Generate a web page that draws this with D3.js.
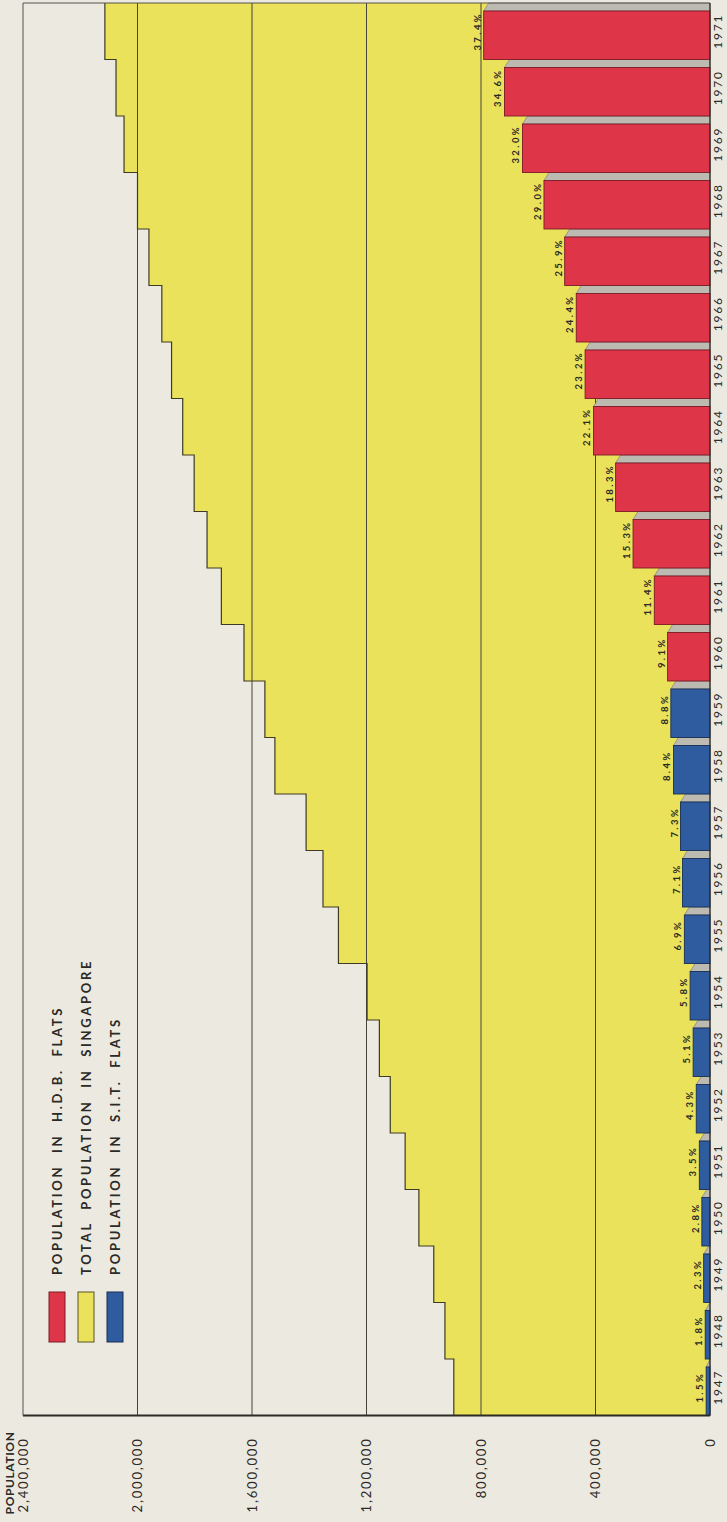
<!DOCTYPE html>
<html>
<head>
<meta charset="utf-8">
<script src="https://cdn.jsdelivr.net/npm/d3@7"></script>
<style>
  html, body { margin: 0; padding: 0; background: #ECE9E1; }
  svg { display: block; }
</style>
</head>
<body>
<svg id="chart" width="727" height="1522"></svg>
<script>
// Singapore: total population and population housed in public flats, 1947-1971
const years = [1947, 1948, 1949, 1950, 1951, 1952, 1953, 1954, 1955, 1956, 1957, 1958, 1959,
               1960, 1961, 1962, 1963, 1964, 1965, 1966, 1967, 1968, 1969, 1970, 1971];
const totalPopulation = [895000, 926000, 965000, 1017000, 1065000, 1117000, 1155000, 1198000,
                         1298000, 1352000, 1411000, 1520000, 1555000, 1628000, 1707000, 1757000,
                         1802000, 1842000, 1881000, 1915000, 1960000, 2000000, 2047000, 2075000, 2114000];
// share of the total living in public flats (per cent)
const flatSharePct = [1.5, 1.8, 2.3, 2.8, 3.5, 4.3, 5.1, 5.8, 6.9, 7.1, 7.3, 8.4, 8.8,
                      9.1, 11.4, 15.3, 18.3, 22.1, 23.2, 24.4, 25.9, 29.0, 32.0, 34.6, 37.4];
// housing authority responsible in each year
const flatAuthority = ["SIT", "SIT", "SIT", "SIT", "SIT", "SIT", "SIT", "SIT", "SIT", "SIT", "SIT", "SIT", "SIT",
                       "HDB", "HDB", "HDB", "HDB", "HDB", "HDB", "HDB", "HDB", "HDB", "HDB", "HDB", "HDB"];
const populationTicks = [0, 400000, 800000, 1200000, 1600000, 2000000, 2400000];
const legendKeys = ["HDB", "TOTAL", "SIT"];
const legendLabels = ["POPULATION  IN  H.D.B.  FLATS", "TOTAL  POPULATION  IN  SINGAPORE", "POPULATION  IN  S.I.T.  FLATS"];

const W = 727, H = 1522;
const colors = { HDB: "#DE3548", SIT: "#2E5C9F", TOTAL: "#EAE25A" };
const outline = { HDB: "#7A1C26", SIT: "#1A2F55", TOTAL: "#5A5520" };
const ink = "#2B2A26";
const font = "Lato, 'Noto Sans', sans-serif";

const svg = d3.select("#chart");
svg.append("rect").attr("width", W).attr("height", H).attr("fill", "#ECE9E1");

// The plot is built upright and then turned a quarter turn, so years run up the page
const g = svg.append("g").attr("transform", `translate(0,${H}) rotate(-90)`);

const x = d3.scaleBand().domain(years).range([106.5, 1519]);
const y = d3.scaleLinear().domain([0, 2400000]).range([710, 23]);
const bw = x.bandwidth();
const x0 = x.range()[0], x1 = x.range()[1];

const rows = years.map((yr, i) => ({
  year: yr,
  total: totalPopulation[i],
  pct: flatSharePct[i],
  auth: flatAuthority[i],
  flats: totalPopulation[i] * flatSharePct[i] / 100
}));

// total population as a stepped area
const stepData = rows.map(d => ({ x: x(d.year), v: d.total }));
stepData.push({ x: x1, v: rows[rows.length - 1].total });

g.append("path")
  .datum(stepData)
  .attr("fill", colors.TOTAL)
  .attr("d", d3.area().x(d => d.x).y0(y(0)).y1(d => y(d.v)).curve(d3.curveStepAfter));

// grid lines
g.append("g").selectAll("line")
  .data(populationTicks.filter(t => t > 0 && t < 2400000))
  .join("line")
  .attr("x1", x0).attr("x2", x1)
  .attr("y1", d => y(d)).attr("y2", d => y(d))
  .attr("stroke", "#46433A").attr("stroke-width", 1);

// outline of the steps
g.append("path")
  .datum(stepData)
  .attr("fill", "none")
  .attr("stroke", "#3E3B22").attr("stroke-width", 1.2)
  .attr("d", d3.line().x(d => d.x).y(d => y(d.v)).curve(d3.curveStepAfter));

// flat population bars with a grey side face
const depth = 8, bevel = 5;
const bars = g.append("g").selectAll("g").data(rows).join("g");

bars.append("polygon")
  .attr("points", d => {
    const a = x(d.year) + bw - depth, b = x(d.year) + bw;
    const top = y(d.flats), base = y(0);
    return [[a, base], [a, top], [b, Math.min(top + bevel, base)], [b, base]].map(p => p.join(",")).join(" ");
  })
  .attr("fill", "#BDBAB2")
  .attr("stroke", "#77746D").attr("stroke-width", 0.6);

bars.append("rect")
  .attr("x", d => x(d.year))
  .attr("width", bw - depth)
  .attr("y", d => y(d.flats))
  .attr("height", d => y(0) - y(d.flats))
  .attr("fill", d => colors[d.auth])
  .attr("stroke", d => outline[d.auth]).attr("stroke-width", 0.9);

// percentage labels
bars.append("text")
  .attr("x", d => x(d.year) + bw / 2)
  .attr("y", d => y(d.flats) - 3)
  .attr("text-anchor", "middle")
  .attr("font-family", font)
  .attr("font-weight", "bold")
  .attr("font-size", 9.5)
  .attr("letter-spacing", 2.4)
  .attr("fill", ink)
  .text(d => d.pct.toFixed(1) + "%");

// frame
g.append("line").attr("x1", x0).attr("x2", x0).attr("y1", y(0)).attr("y2", y(2400000))
  .attr("stroke", ink).attr("stroke-width", 2.2);
g.append("line").attr("x1", x1).attr("x2", x1).attr("y1", y(0)).attr("y2", y(2400000))
  .attr("stroke", "#55534C").attr("stroke-width", 1);
g.append("line").attr("x1", x0).attr("x2", x1).attr("y1", y(2400000)).attr("y2", y(2400000))
  .attr("stroke", "#55534C").attr("stroke-width", 1);
g.append("line").attr("x1", x0).attr("x2", x1).attr("y1", y(0)).attr("y2", y(0))
  .attr("stroke", ink).attr("stroke-width", 1.3);

// year axis
const xAxis = g.append("g")
  .attr("transform", `translate(0,${y(0)})`)
  .call(d3.axisBottom(x).tickSize(0).tickPadding(3));
xAxis.select(".domain").remove();
xAxis.selectAll("text")
  .attr("font-family", font).attr("font-size", 12)
  .attr("letter-spacing", 1.8).attr("fill", ink);

// population axis
const yAxis = g.append("g")
  .attr("transform", `translate(${x0},0)`)
  .call(d3.axisLeft(y).tickValues(populationTicks).tickFormat(d3.format(",")).tickSize(0).tickPadding(22));
yAxis.select(".domain").remove();
yAxis.selectAll("text")
  .attr("font-family", font).attr("font-size", 13)
  .attr("letter-spacing", 1.8).attr("fill", ink);

g.append("text")
  .attr("x", x0 - 16).attr("y", y(2400000) - 13).attr("dy", "0.32em")
  .attr("text-anchor", "end")
  .attr("font-family", font).attr("font-weight", "bold").attr("font-size", 12)
  .attr("letter-spacing", 0.6).attr("fill", ink)
  .text("POPULATION");

// legend
const legend = g.append("g").selectAll("g").data(legendKeys).join("g")
  .attr("transform", (d, i) => `translate(180,${57 + i * 29})`);
legend.append("rect")
  .attr("x", 0).attr("y", -8).attr("width", 50).attr("height", 16)
  .attr("fill", d => colors[d])
  .attr("stroke", d => outline[d]).attr("stroke-width", 1);
legend.append("text")
  .attr("x", 67).attr("y", 0).attr("dy", "0.36em")
  .style("white-space", "pre")
  .attr("font-family", font).attr("font-weight", "bold").attr("font-size", 13)
  .attr("letter-spacing", 2.7).attr("fill", ink)
  .text((d, i) => legendLabels[i]);
</script>
</body>
</html>
